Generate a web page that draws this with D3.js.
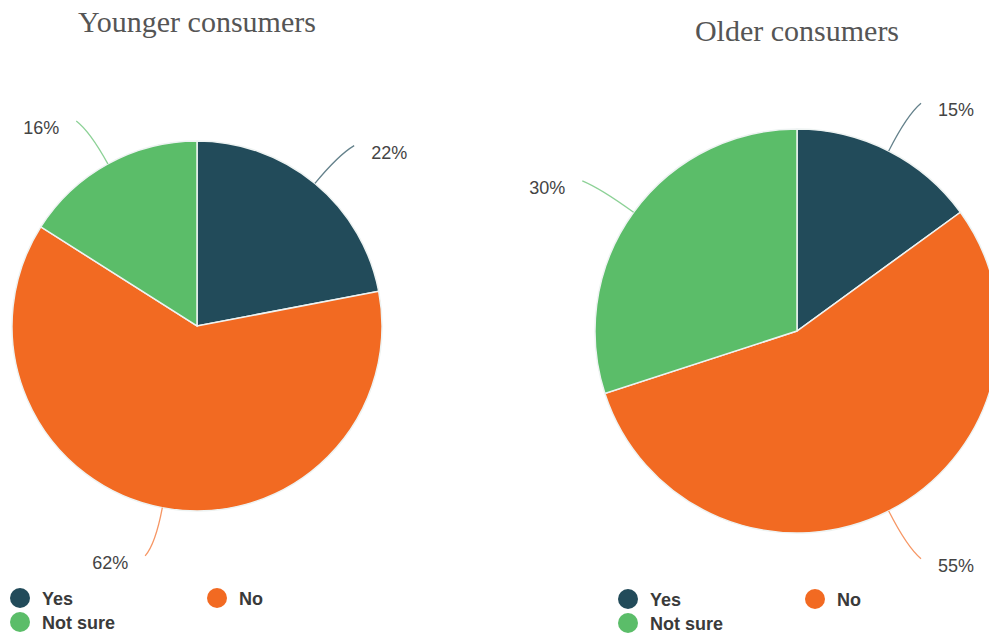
<!DOCTYPE html>
<html>
<head>
<meta charset="utf-8">
<script src="https://cdn.jsdelivr.net/npm/d3@7"></script>
<style>
  html, body { margin: 0; padding: 0; background: #ffffff; }
  svg { display: block; }
</style>
</head>
<body>
<svg id="chart" width="989" height="634"></svg>
<script>
// Survey answers by age group (percent of respondents)
const categories = ["Yes", "No", "Not sure"];
const youngerValues = [22, 62, 16];
const olderValues = [15, 55, 30];
const chartTitles = ["Younger consumers", "Older consumers"];
const sliceColors = ["#224b5a", "#f26a22", "#5bbd69"];

const svg = d3.select("#chart");
const color = d3.scaleOrdinal().domain(categories).range(sliceColors);

const panels = [
  { title: chartTitles[0], values: youngerValues, cx: 197, cy: 326, r: 185, titleY: 32,
    legendX: 20, legendY: 598, legendGap: 197 },
  { title: chartTitles[1], values: olderValues, cx: 797, cy: 331, r: 202, titleY: 41,
    legendX: 628, legendY: 599, legendGap: 187 }
];

const pie = d3.pie().sort(null).value(d => d.value);

panels.forEach(p => {
  const data = categories.map((c, i) => ({ category: c, value: p.values[i] }));
  const arcs = pie(data);
  const arc = d3.arc().innerRadius(0).outerRadius(p.r);

  const g = svg.append("g").attr("transform", `translate(${p.cx},${p.cy})`);

  g.selectAll("path.slice")
    .data(arcs)
    .join("path")
    .attr("class", "slice")
    .attr("d", arc)
    .attr("fill", d => color(d.data.category))
    .attr("stroke", "#eef3f2")
    .attr("stroke-width", 1.5);

  // curved leader lines and percentage labels
  const pt = (a, rr) => [Math.sin(a) * rr, -Math.cos(a) * rr];
  arcs.forEach(d => {
    const a = (d.startAngle + d.endAngle) / 2;
    const side = Math.sin(a) >= 0 ? 1 : -1;
    const s = pt(a, p.r);
    const c = pt(a, p.r * 1.2);
    const e0 = pt(a, p.r * 1.265);
    const e = [e0[0] + side * 8, e0[1]];
    const path = d3.path();
    path.moveTo(s[0], s[1]);
    path.quadraticCurveTo(c[0], c[1], e[0], e[1]);
    g.append("path")
      .attr("d", path.toString())
      .attr("fill", "none")
      .attr("stroke", color(d.data.category))
      .attr("stroke-opacity", 0.7)
      .attr("stroke-width", 1.3);
    g.append("text")
      .attr("x", e[0] + side * 17)
      .attr("y", e[1] + 13)
      .attr("text-anchor", side > 0 ? "start" : "end")
      .attr("font-family", "Liberation Sans, Arial, sans-serif")
      .attr("font-size", 18)
      .attr("fill", "#444")
      .text(d.data.value + "%");
  });

  svg.append("text")
    .attr("x", p.cx)
    .attr("y", p.titleY)
    .attr("text-anchor", "middle")
    .attr("font-family", "Liberation Serif, Times New Roman, serif")
    .attr("font-size", 30)
    .attr("fill", "#555")
    .text(p.title);

  // legend: two columns, "Not sure" wraps to a second row
  const legendPos = [
    [p.legendX, p.legendY],
    [p.legendX + p.legendGap, p.legendY],
    [p.legendX, p.legendY + 24]
  ];
  const lg = svg.append("g");
  categories.forEach((c, i) => {
    const [lx, ly] = legendPos[i];
    lg.append("circle")
      .attr("cx", lx)
      .attr("cy", ly)
      .attr("r", 10)
      .attr("fill", color(c));
    lg.append("text")
      .attr("x", lx + 22)
      .attr("y", ly + 7)
      .attr("font-family", "Liberation Sans, Arial, sans-serif")
      .attr("font-weight", "bold")
      .attr("font-size", 18)
      .attr("fill", "#3a3a3a")
      .text(c);
  });
});
</script>
</body>
</html>
